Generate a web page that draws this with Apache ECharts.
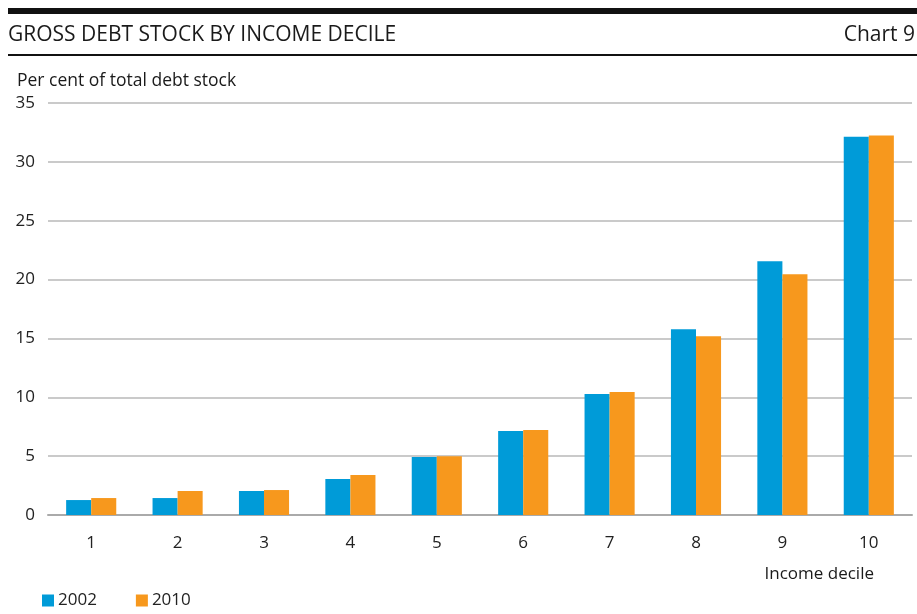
<!DOCTYPE html>
<html>
<head>
<meta charset="utf-8">
<script src="https://cdn.jsdelivr.net/npm/echarts@6/dist/echarts.min.js"></script>
<style>
html,body{margin:0;padding:0;background:#fff;}
#chart{width:917px;height:614px;}
</style>
</head>
<body>
<div id="chart"></div>
<script>
var categories = ['1','2','3','4','5','6','7','8','9','10'];
var series2002 = [1.27, 1.44, 2.04, 3.06, 4.93, 7.14, 10.28, 15.79, 21.55, 32.14];
var series2010 = [1.44, 2.04, 2.12, 3.40, 5.00, 7.22, 10.45, 15.19, 20.45, 32.23];
var seriesNames = ['2002', '2010'];
var yTicks = {min: 0, max: 35, interval: 5};

var FONT = '"Open Sans", "Noto Sans", sans-serif';
var chart = echarts.init(document.getElementById('chart'), null, {renderer: 'canvas'});
chart.setOption({
  backgroundColor: '#fff',
  animation: false,
  textStyle: {fontFamily: FONT},
  grid: {left: 48, right: 5, top: 103, bottom: 99, containLabel: false},
  legend: {
    left: 42, top: 592, padding: 0, itemWidth: 12, itemHeight: 12, itemGap: 39,
    icon: 'rect',
    textStyle: {fontSize: 17, color: '#222', fontFamily: FONT, padding: [0,0,0,-1]},
    data: seriesNames
  },
  xAxis: {
    type: 'category',
    data: categories,
    axisLine: {lineStyle: {color: '#aaaaaa', width: 2}},
    axisTick: {inside: true, length: 6, lineStyle: {color: '#aaaaaa', width: 2}},
    axisLabel: {margin: 20, fontSize: 17, color: '#222', fontFamily: FONT}
  },
  yAxis: {
    type: 'value',
    min: yTicks.min, max: yTicks.max, interval: yTicks.interval,
    axisLine: {show: false},
    axisTick: {show: false},
    axisLabel: {margin: 13, fontSize: 17, color: '#222', fontFamily: FONT},
    splitLine: {lineStyle: {color: '#b8b8b8', width: 1.5}}
  },
  series: [
    {name: seriesNames[0], type: 'bar', data: series2002, barGap: '0%', barCategoryGap: '42%',
     itemStyle: {color: '#009BD8'}},
    {name: seriesNames[1], type: 'bar', data: series2010, barGap: '0%', barCategoryGap: '42%',
     itemStyle: {color: '#F7981D'}}
  ],
  graphic: [
    {type: 'rect', shape: {x: 8, y: 8, width: 909, height: 6}, style: {fill: '#111'}},
    {type: 'rect', shape: {x: 8, y: 54, width: 909, height: 2}, style: {fill: '#111'}},
    {type: 'text', x: 8, y: 35, style: {text: 'GROSS DEBT STOCK BY INCOME DECILE', font: '21px ' + FONT, fill: '#1a1a1a', textVerticalAlign: 'middle'}},
    {type: 'text', x: 915, y: 35, style: {text: 'Chart 9', font: '21px ' + FONT, fill: '#1a1a1a', textAlign: 'right', textVerticalAlign: 'middle'}},
    {type: 'text', x: 17, y: 81, style: {text: 'Per cent of total debt stock', font: '17.5px ' + FONT, fill: '#1a1a1a', textVerticalAlign: 'middle'}},
    {type: 'text', x: 874, y: 574, style: {text: 'Income decile', font: '17px ' + FONT, fill: '#1a1a1a', textAlign: 'right', textVerticalAlign: 'middle'}}
  ]
});
</script>
</body>
</html>
